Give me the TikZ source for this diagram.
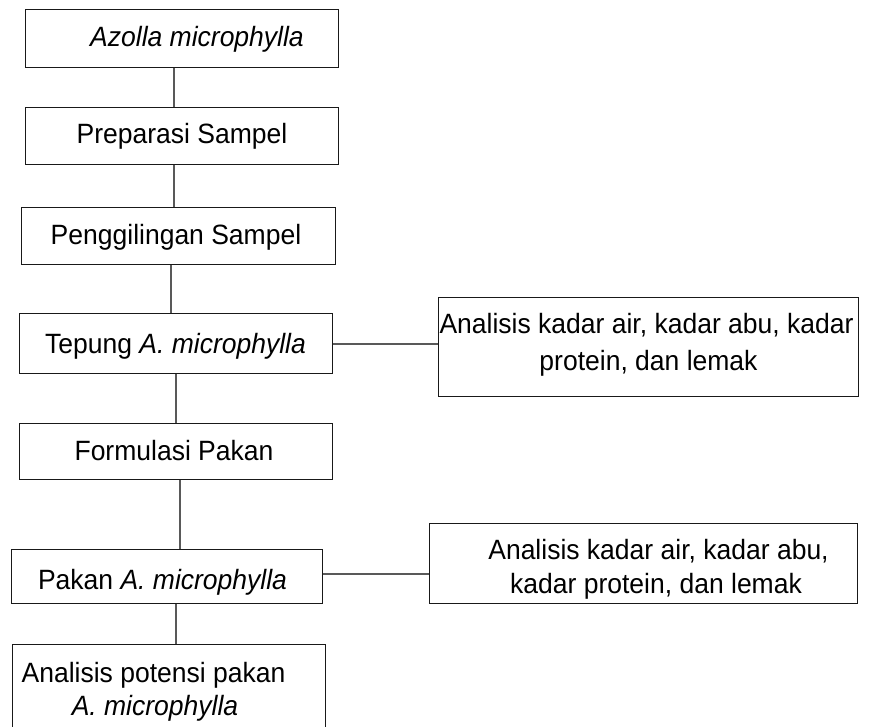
\documentclass[tikz,border=0pt]{standalone}
\usepackage{fontspec}
\setmainfont{Liberation Sans}[FakeStretch=0.95]
\begin{document}
\begin{tikzpicture}[x=1pt,y=-1pt,
 box/.style={draw=black!90, line width=0.9pt, inner sep=0pt, anchor=north west},
 lbl/.style={anchor=base, inner sep=0pt, font=\fontsize{27.9}{30}\selectfont},
 link/.style={draw=black!65, line width=1.1pt}]
\useasboundingbox (0,0) rectangle (873,726);
% boxes
\node[box, minimum width=313pt, minimum height=58pt] (b1) at (25,9) {};
\node[box, minimum width=313pt, minimum height=57pt] (b2) at (25,107) {};
\node[box, minimum width=314pt, minimum height=57pt] (b3) at (21,207) {};
\node[box, minimum width=313pt, minimum height=60pt] (b4) at (19,313) {};
\node[box, minimum width=313pt, minimum height=56pt] (b5) at (19,423) {};
\node[box, minimum width=311pt, minimum height=54pt] (b6) at (11,549) {};
\node[box, minimum width=313pt, minimum height=100pt] (b7) at (12,644) {};
\node[box, minimum width=420pt, minimum height=99pt] (r1) at (438,297) {};
\node[box, minimum width=428pt, minimum height=80pt] (r2) at (429,523) {};
% texts
\node[lbl] (t1) at (197,46) {\itshape Azolla microphylla};
\node[lbl] (t2) at (182,143) {Preparasi Sampel};
\node[lbl] (t3) at (176,244) {Penggilingan Sampel};
\node[lbl] (t4) at (175.5,353) {Tepung \textit{A. microphylla}};
\node[lbl] (t5) at (174,460) {Formulasi Pakan};
\node[lbl] (t6) at (162.5,589) {Pakan \textit{A. microphylla}};
\node[lbl] (t7) at (153.5,682) {Analisis potensi pakan};
\node[lbl] (t8) at (155,715) {\textit{A. microphylla}};
\node[lbl] (t9) at (646.5,333) {Analisis kadar air, kadar abu, kadar};
\node[lbl] (t10) at (648.5,370) {protein, dan lemak};
\node[lbl] (t11) at (658.5,559) {Analisis kadar air, kadar abu,};
\node[lbl] (t12) at (656,593) {kadar protein, dan lemak};
% connector guides
\coordinate (v1) at (174,0);
\coordinate (v2) at (174,0);
\coordinate (v3) at (171,0);
\coordinate (v4) at (176,0);
\coordinate (v5) at (180,0);
\coordinate (v6) at (176,0);
\coordinate (h1) at (0,344);
\coordinate (h2) at (0,574);
% connectors
\draw[link] (b1.south -| v1) -- (b2.north -| v1);
\draw[link] (b2.south -| v2) -- (b3.north -| v2);
\draw[link] (b3.south -| v3) -- (b4.north -| v3);
\draw[link] (b4.south -| v4) -- (b5.north -| v4);
\draw[link] (b5.south -| v5) -- (b6.north -| v5);
\draw[link] (b6.south -| v6) -- (b7.north -| v6);
\draw[link] (b4.east |- h1) -- (r1.west |- h1);
\draw[link] (b6.east |- h2) -- (r2.west |- h2);
\end{tikzpicture}
\end{document}
